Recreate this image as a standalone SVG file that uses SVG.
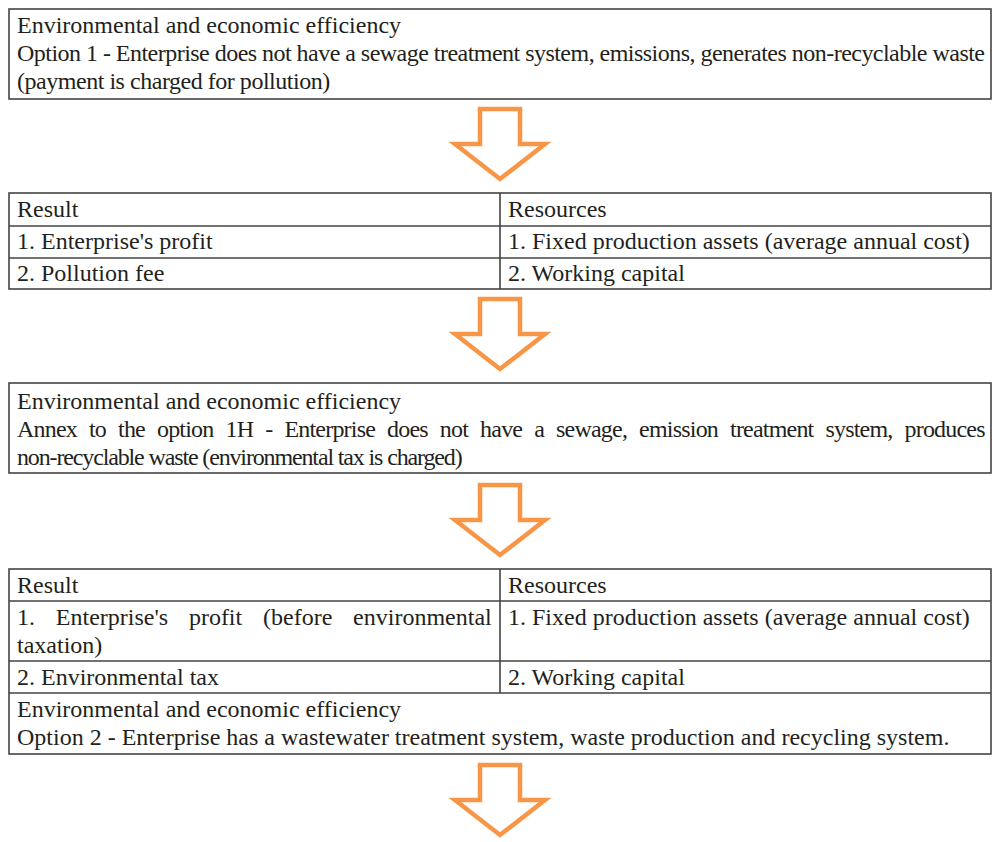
<svg xmlns="http://www.w3.org/2000/svg" xmlns:xlink="http://www.w3.org/1999/xlink" width="998" height="842" viewBox="0 0 998 842">
<style>
.t{font-family:"Liberation Serif","Times New Roman",serif;font-size:24px;fill:#231f20}
.b{fill:#fff;stroke:#444;stroke-width:1.6}
.l{stroke:#444;stroke-width:1.6;fill:none}
.ar{fill:#fff;stroke:#f79646;stroke-width:4.5;stroke-linejoin:miter}
</style>
<defs>
<path id="arrow" class="ar" d="M -20,0 H 20 V 35 H 45 L 0,70 L -45,35 H -20 Z"/>
</defs>
<rect width="998" height="842" fill="#fff"/>

<g id="option1">
<rect class="b" x="9" y="9" width="982" height="90"/>
<text class="t" x="17" y="33">Environmental and economic efficiency</text>
<text class="t" x="17" y="61" textLength="968" lengthAdjust="spacing">Option 1 - Enterprise does not have a sewage treatment system, emissions, generates non-recyclable waste</text>
<text class="t" x="17" y="89" letter-spacing="-0.47">(payment is charged for pollution)</text>
</g>

<g id="table1">
<rect class="b" x="9" y="193" width="982" height="96"/>
<path class="l" d="M9,226 H991 M9,258 H991 M500,193 V289"/>
<text class="t" x="17" y="217">Result</text>
<text class="t" x="508" y="217">Resources</text>
<text class="t" x="17" y="249">1. Enterprise's profit</text>
<text class="t" x="508" y="249">1. Fixed production assets (average annual cost)</text>
<text class="t" x="17" y="281">2. Pollution fee</text>
<text class="t" x="508" y="281">2. Working capital</text>
</g>

<g id="option1h">
<rect class="b" x="9" y="383" width="982" height="90"/>
<text class="t" x="17" y="409">Environmental and economic efficiency</text>
<text class="t" x="17" y="437" letter-spacing="-0.8" word-spacing="6.8">Annex to the option 1H - Enterprise does not have a sewage, emission treatment system, produces</text>
<text class="t" x="17" y="465" letter-spacing="-1.14">non-recyclable waste (environmental tax is charged)</text>
</g>

<g id="table2">
<rect class="b" x="9" y="569" width="982" height="185"/>
<path class="l" d="M9,601 H991 M9,661 H991 M9,693 H991 M500,569 V693"/>
<text class="t" x="17" y="593">Result</text>
<text class="t" x="508" y="593">Resources</text>
<text class="t" x="17" y="625" word-spacing="14.8">1. Enterprise's profit (before environmental</text>
<text class="t" x="17" y="653">taxation)</text>
<text class="t" x="508" y="625">1. Fixed production assets (average annual cost)</text>
<text class="t" x="17" y="685">2. Environmental tax</text>
<text class="t" x="508" y="685">2. Working capital</text>
</g>

<g id="option2">
<text class="t" x="17" y="717">Environmental and economic efficiency</text>
<text class="t" x="17" y="745">Option 2 - Enterprise has a wastewater treatment system, waste production and recycling system.</text>
</g>

<g id="connectors">
<use xlink:href="#arrow" href="#arrow" x="500" y="109"/>
<use xlink:href="#arrow" href="#arrow" x="500" y="299"/>
<use xlink:href="#arrow" href="#arrow" x="500" y="485"/>
<use xlink:href="#arrow" href="#arrow" x="500" y="765"/>
</g>
</svg>
